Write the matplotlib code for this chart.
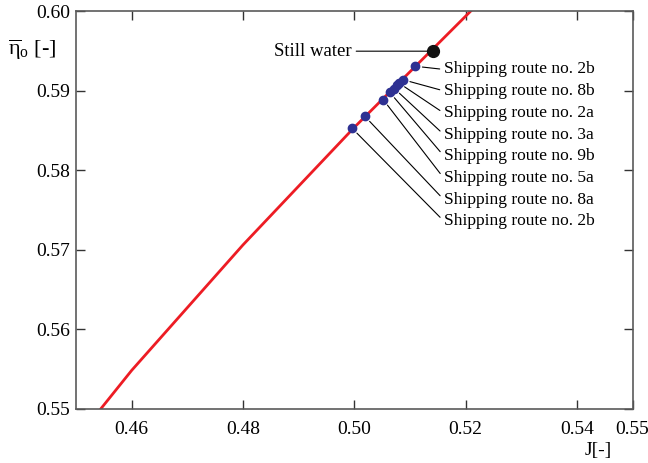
import matplotlib
matplotlib.use("Agg")
import matplotlib.pyplot as plt

# efficiency curve
curve_j = [0.4545, 0.46, 0.48, 0.50, 0.52, 0.522]
curve_eta = [0.550, 0.5548, 0.5706, 0.5854, 0.5994, 0.6008]

still_j, still_eta = 0.5141, 0.5950

route_j = [0.5110, 0.5088, 0.5080, 0.5072, 0.5064, 0.5052, 0.5019, 0.4996, 0.5076]
route_eta = [0.5931, 0.5914, 0.5910, 0.5903, 0.5898, 0.5889, 0.5868, 0.5853, 0.5907]
route_names = ["2b", "8b", "2a", "3a", "9b", "5a", "8a", "2b", None]
label_eta = [0.5927, 0.5900, 0.5872, 0.5845, 0.5818, 0.5790, 0.5763, 0.5736]

x_ticks = [0.46, 0.48, 0.50, 0.52, 0.54, 0.55]
y_ticks = [0.55, 0.56, 0.57, 0.58, 0.59, 0.60]

plt.rcParams["font.family"] = ["Liberation Serif", "DejaVu Serif"]
plt.rcParams["mathtext.fontset"] = "custom"
plt.rcParams["mathtext.rm"] = "Liberation Serif"
plt.rcParams["mathtext.it"] = "Liberation Serif"

fig = plt.figure(figsize=(6.48, 4.63), dpi=100)
ax = fig.add_axes([0.1173, 0.1177, 0.8588, 0.8575])

ax.plot(curve_j, curve_eta, color="#ed1c24", lw=2.0, zorder=2)
ax.plot(route_j, route_eta, "o", color="#2e3192", ms=6, zorder=3)
ax.plot([still_j], [still_eta], "o", color="#111111", ms=8.5, zorder=4)

ax.annotate("Still water", xy=(still_j, still_eta), xytext=(0.4996, still_eta),
            ha="right", va="center", fontsize=13.5,
            arrowprops=dict(arrowstyle="-", color="black", lw=0.8,
                            relpos=(1, 0.5), shrinkA=1, shrinkB=4))

for j, e, name, ty in zip(route_j, route_eta, route_names, label_eta):
    if name is None:
        continue
    ax.annotate("Shipping route no. " + name, xy=(j, e), xytext=(0.5161, ty),
                ha="left", va="center", fontsize=12.5,
                arrowprops=dict(arrowstyle="-", color="black", lw=0.8,
                                relpos=(0, 0.5), shrinkA=1, shrinkB=5))

ax.set_xlim(0.45, 0.55)
ax.set_ylim(0.55, 0.60)
ax.set_xticks(x_ticks)
ax.set_xticklabels([f"{t:.2f}" for t in x_ticks])
ax.set_yticks(y_ticks)
ax.set_yticklabels([f"{t:.2f}" for t in y_ticks])
ax.tick_params(direction="in", length=6.5, width=1.0, color="#333333",
               top=True, right=True, labelsize=14)
ax.tick_params(axis="x", pad=9)
ax.tick_params(axis="y", pad=4)
for s in ax.spines.values():
    s.set_color("#5a5a5a")
    s.set_linewidth(1.2)

fig.text(8 / 648, 1 - 50 / 463, r"$\overline{\mathrm{\eta}}_{\mathrm{o}}$ [-]",
         fontsize=16, ha="left", va="center")
fig.text(598 / 648, 1 - 450 / 463, "J[-]", fontsize=14, ha="center", va="center")

fig.savefig("out.png", dpi=100)
